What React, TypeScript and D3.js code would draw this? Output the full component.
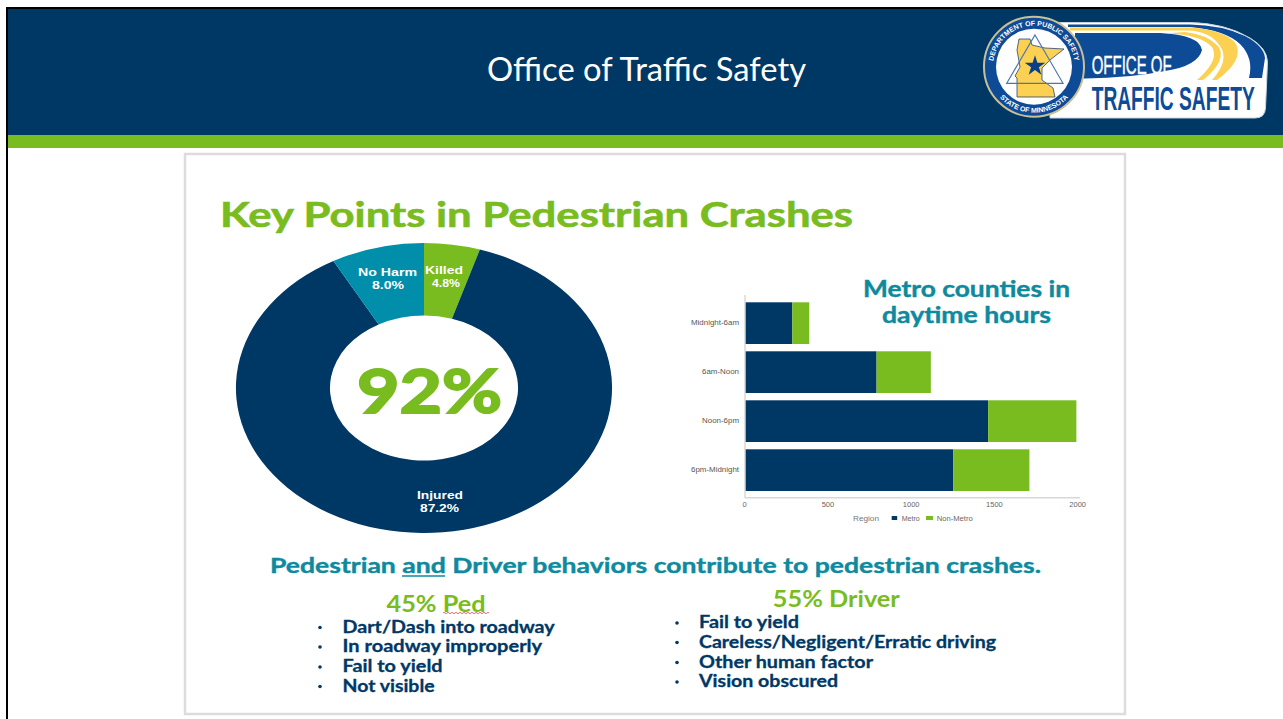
import React from "react";
import * as d3 from "d3";

const slices = ["Killed", "Injured", "No Harm"];
const sliceValues = [4.8, 87.2, 8.0];
const sliceColors = ["#78bc20", "#003865", "#008eaa"];
const hours = ["Midnight-6am", "6am-Noon", "Noon-6pm", "6pm-Midnight"];
const metro = [280, 786, 1456, 1246];
const nonMetro = [102, 326, 530, 458];
const xTicks = [0, 500, 1000, 1500, 2000];
const pedItems = ["Dart/Dash into roadway", "In roadway improperly", "Fail to yield", "Not visible"];
const driverItems = ["Fail to yield", "Careless/Negligent/Erratic driving", "Other human factor", "Vision obscured"];

const pedLayout = [
  { w: 212, y: 632.5 },
  { w: 199.5, y: 652 },
  { w: 100, y: 672 },
  { w: 92, y: 691.5 },
];
const driverLayout = [
  { w: 100, y: 628 },
  { w: 297, y: 647.5 },
  { w: 174, y: 667.5 },
  { w: 139, y: 687 },
];
const hourWidths = [48, 37, 37, 48];

const NAVY = "#003865";
const GREEN = "#78bc20";
const TEAL = "#0e8a9e";
const LOGO_BLUE = "#0d4b96";
const YELLOW = "#fcd050";
const SANS = "Lato, 'Open Sans', sans-serif";
const ARIAL = "'Liberation Sans', sans-serif";
const NARROW = "'Liberation Sans Narrow', 'Liberation Sans', sans-serif";

function Txt(p: { s: string; x: number; y: number; size: number; fill: string; w: number; weight?: number; font?: string; bold?: number }) {
  return (
    <text
      x={p.x}
      y={p.y}
      fontSize={p.size}
      fill={p.fill}
      stroke={p.bold ? p.fill : "none"}
      strokeWidth={p.bold || 0}
      fontWeight={p.weight ?? 700}
      fontFamily={p.font || SANS}
      textLength={p.w}
      lengthAdjust="spacingAndGlyphs"
    >
      {p.s}
    </text>
  );
}

function Donut() {
  const pie = d3.pie<number>().sort(null)(sliceValues);
  const arc = d3.arc<d3.PieArcDatum<number>>().innerRadius(72.5).outerRadius(145);
  return (
    <g transform="translate(424,388) scale(1.297,1)">
      {pie.map((d, i) => (
        <path key={slices[i]} d={arc(d) || ""} fill={sliceColors[i]} />
      ))}
    </g>
  );
}

function Bars() {
  const x = d3.scaleLinear().domain([0, 2000]).range([745.7, 1078.7]);
  const y = d3.scaleBand().domain(hours).range([298.65, 494.65]).paddingInner(0.149).paddingOuter(0.0745);
  return (
    <g>
      <line x1={745} x2={745} y1={295} y2={498} stroke="#d8d8d8" strokeWidth={1.5} />
      <line x1={745} x2={1080} y1={497.7} y2={497.7} stroke="#d8d8d8" strokeWidth={1.5} />
      {hours.map((h, i) => (
        <g key={h}>
          <rect x={x(0)} y={y(h)} width={x(metro[i]) - x(0)} height={y.bandwidth()} fill={NAVY} />
          <rect x={x(metro[i])} y={y(h)} width={x(metro[i] + nonMetro[i]) - x(metro[i])} height={y.bandwidth()} fill={GREEN} />
          <Txt s={h} x={739 - hourWidths[i]} y={(y(h) as number) + y.bandwidth() / 2 + 2} size={6.5} fill="#555" w={hourWidths[i]} weight={400} font={ARIAL} />
        </g>
      ))}
      {xTicks.map((t) => (
        <text key={t} x={x(t) - 1} y={507} textAnchor="middle" fontSize={7.5} fill="#666" fontFamily={ARIAL}>{t}</text>
      ))}
      <Txt s="Region" x={853} y={520.7} size={7} fill="#777" w={26} weight={400} font={ARIAL} />
      <rect x={891.7} y={516} width={5.5} height={4} fill={NAVY} />
      <Txt s="Metro" x={901.7} y={520.7} size={6.5} fill="#666" w={18} weight={400} font={ARIAL} />
      <rect x={926} y={516} width={7} height={4} fill={GREEN} />
      <Txt s="Non-Metro" x={936.7} y={520.7} size={6.5} fill="#666" w={36} weight={400} font={ARIAL} />
    </g>
  );
}

function Logo() {
  const star = d3.symbol().type(d3.symbolStar).size(130)() || "";
  return (
    <g>
      <path d="M1050,22.5 L1190,22.5 Q1225,23 1250,38 Q1267,48 1267.5,62 L1265.5,108 Q1265,118 1255,118 L1050,118 Z" fill="#fff" stroke="#c9d3e0" strokeWidth={1} />
      <path d="M1068,24.5 L1190,24.5 Q1222,25 1245,36 Q1264,46 1265,58 L1262,78 L1249,78 Q1254,58 1240,44 Q1225,30 1190,27 L1068,27 Z" fill={LOGO_BLUE} />
      <path d="M1075,33 L1160,33 Q1200,35 1202,50 Q1198,66 1165,71 Q1130,78 1085,78.5 L1075,78.5 Z" fill={LOGO_BLUE} />
      <path d="M1070,27.5 L1190,27.5 Q1226,30 1236,44 Q1244,60 1217,80 L1212,80 Q1230,60 1220,46 Q1210,31 1188,30.5 L1070,30.5 Z" fill={YELLOW} />
      <path d="M1165,33.5 Q1200,34 1212,47 Q1220,60 1197,80 L1203,80 Q1228,60 1218,46 Q1206,34 1185,32 Z" fill={YELLOW} />
      <circle cx={1034} cy={66.7} r={50} fill={LOGO_BLUE} stroke="#c9c096" strokeWidth={2} />
      <circle cx={1034} cy={66.7} r={38} fill="#fff" />
      <path d="M1019,39 L1030,39 L1032,45 L1045,48 L1064,49 L1050,60 L1042,68 L1042,80 L1053,88 L1055,97 L1017,97 L1017,78 L1015,76 L1020,67 L1017,50 Z" fill={YELLOW} stroke="#27457a" strokeWidth={0.8} />
      <path d="M1035,35 L1063,83.3 L1006.7,83.3 Z" fill="none" stroke="#4a77b0" strokeWidth={1.2} />
      <path d={star} transform="translate(1035,66)" fill="#0b3f8a" />
      <path id="sealTop" d="M993,66.7 A41,41 0 0 1 1075,66.7" fill="none" />
      <path id="sealBottom" d="M988,66.7 A46,46 0 0 0 1080,66.7" fill="none" />
      <text fontSize={7} fontFamily={ARIAL} fontWeight={700} fill="#fff">
        <textPath href="#sealTop" startOffset="50%" textAnchor="middle">DEPARTMENT OF PUBLIC SAFETY</textPath>
      </text>
      <text fontSize={7} fontFamily={ARIAL} fontWeight={700} fill="#fff">
        <textPath href="#sealBottom" startOffset="50%" textAnchor="middle">STATE OF MINNESOTA</textPath>
      </text>
      <Txt s="OFFICE OF" x={1091.7} y={74} size={26} fill="#fff" w={80} weight={400} font={NARROW} bold={0.5} />
      <Txt s="TRAFFIC SAFETY" x={1091.7} y={110} size={34} fill={LOGO_BLUE} w={163} weight={700} font={NARROW} />
    </g>
  );
}

export default function App() {
  const list = (items: string[], layout: { w: number; y: number }[], bx: number, tx: number) =>
    items.map((s, i) => (
      <g key={s}>
        <circle cx={bx} cy={layout[i].y - 5} r={1.8} fill={NAVY} />
        <Txt s={s} x={tx} y={layout[i].y} size={16.5} fill={NAVY} w={layout[i].w} bold={0.3} />
      </g>
    ));
  return (
    <svg width={1283} height={719} style={{ position: "fixed", left: 0, top: 0, display: "block" }}>
      <rect width={1283} height={719} fill="#fff" />
      <rect x={6} y={7} width={1277} height={2} fill="#000" />
      <rect x={6} y={7} width={2} height={712} fill="#000" />
      <rect x={8} y={9} width={1275} height={126} fill={NAVY} />
      <rect x={8} y={135} width={1275} height={13} fill={GREEN} />
      <Txt s="Office of Traffic Safety" x={487} y={81} size={32} fill="#fff" w={319} weight={400} />
      <Logo />
      <rect x={185} y={154} width={940} height={560} fill="#fff" stroke="#dcdcdc" strokeWidth={2.5} />
      <Txt s="Key Points in Pedestrian Crashes" x={220} y={227} size={35} fill={GREEN} w={633} bold={0.6} />
      <Donut />
      <Txt s="92%" x={357} y={413} size={62} fill={GREEN} w={145} bold={2} />
      <Txt s="No Harm" x={358} y={275.5} size={11.5} fill="#fff" w={59} font={ARIAL} />
      <Txt s="8.0%" x={372} y={288.5} size={11.5} fill="#fff" w={32} font={ARIAL} />
      <Txt s="Killed" x={425} y={274} size={11.5} fill="#fff" w={38} font={ARIAL} />
      <Txt s="4.8%" x={432} y={287} size={11.5} fill="#fff" w={28} font={ARIAL} />
      <Txt s="Injured" x={417} y={499} size={11.5} fill="#fff" w={46} font={ARIAL} />
      <Txt s="87.2%" x={420} y={512} size={11.5} fill="#fff" w={39} font={ARIAL} />
      <Bars />
      <Txt s="Metro counties in" x={863} y={296.5} size={22} fill={TEAL} w={207} bold={0.4} />
      <Txt s="daytime hours" x={882} y={323} size={22} fill={TEAL} w={169} bold={0.4} />
      <Txt s="Pedestrian and Driver behaviors contribute to pedestrian crashes." x={270} y={572.5} size={21.5} fill={TEAL} w={771} bold={0.4} />
      <line x1={402} x2={445} y1={576} y2={576} stroke={TEAL} strokeWidth={1.5} />
      <Txt s="45% Ped" x={386.5} y={611.5} size={22} fill={GREEN} w={99} />
      <path d="M443,613 q1,-1.5 2,0 t2,0 t2,0 t2,0 t2,0 t2,0 t2,0 t2,0 t2,0 t2,0 t2,0 t2,0 t2,0 t2,0 t2,0 t2,0 t2,0 t2,0 t2,0 t2,0 t2,0 t2,0 t2,0" fill="none" stroke="#d23a3a" strokeWidth={0.7} />
      <Txt s="55% Driver" x={772.8} y={606.5} size={22} fill={GREEN} w={127} />
      {list(pedItems, pedLayout, 320, 342.6)}
      {list(driverItems, driverLayout, 677, 699)}
    </svg>
  );
}
